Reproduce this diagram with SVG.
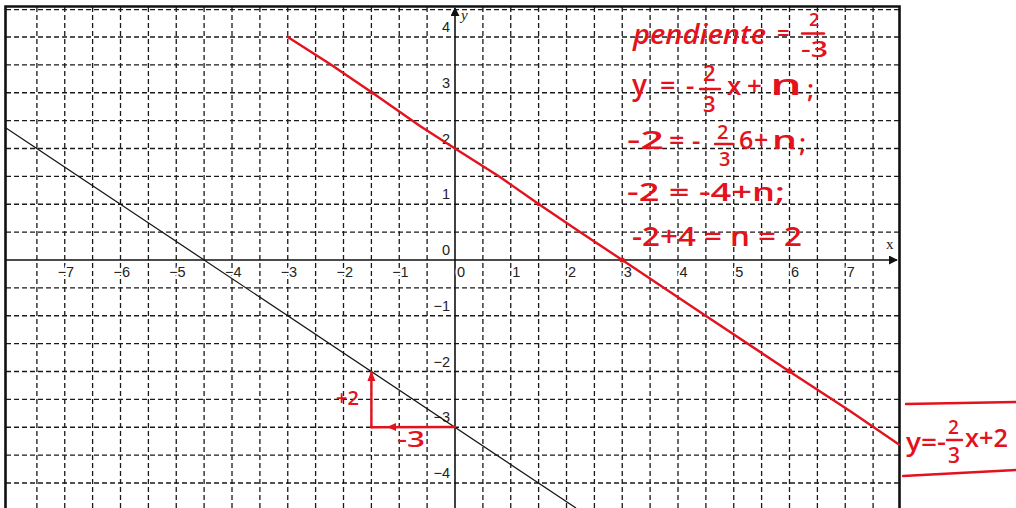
<svg xmlns="http://www.w3.org/2000/svg" width="1016" height="508" viewBox="0 0 1016 508">
<style>
.grid{fill:none;stroke:#1a1a1a;stroke-width:1.3;stroke-dasharray:5 3}
.axis{fill:none;stroke:#111;stroke-width:1.6}
.frame{fill:none;stroke:#111;stroke-width:2.6}
.num{font-family:"Liberation Sans",Arial,sans-serif;font-size:14.5px;fill:#222;stroke:#fff;stroke-width:4;paint-order:stroke;stroke-linejoin:round}
.var{font-family:"Liberation Serif","Times New Roman",serif;font-size:15px;fill:#222}
.red{fill:none;stroke:#e3121c;stroke-width:2.4;stroke-linecap:round}
.hw{font-family:"Open Sans","Liberation Sans",sans-serif;fill:#e3121c;font-weight:600}
</style>
<defs>
<marker id="arrBlack" viewBox="0 0 10 10" refX="9" refY="5" markerWidth="9" markerHeight="9" markerUnits="userSpaceOnUse" orient="auto"><path d="M0,0 L10,5 L0,10 z" fill="#111"/></marker>
<marker id="arrRed" viewBox="0 0 10 10" refX="9" refY="5" markerWidth="10" markerHeight="10" markerUnits="userSpaceOnUse" orient="auto"><path d="M0,1 L10,5 L0,9 z" fill="#e3121c"/></marker>
</defs>
<rect width="1016" height="508" fill="#fff"/>
<g id="grid">
<path class="grid" d="M36.9 7V508M64.75 7V508M92.6 7V508M120.5 7V508M148.4 7V508M176.25 7V508M204.1 7V508M232 7V508M259.9 7V508M287.75 7V508M315.6 7V508M343.5 7V508M371.4 7V508M399.25 7V508M427.1 7V508M482.9 7V508M510.75 7V508M538.6 7V508M566.5 7V508M594.4 7V508M622.25 7V508M650.1 7V508M678 7V508M705.9 7V508M733.75 7V508M761.6 7V508M789.5 7V508M817.4 7V508M845.25 7V508M873.1 7V508"/>
<path class="grid" d="M6 9.6H899M6 37H899M6 64.9H899M6 92.75H899M6 120.6H899M6 148.5H899M6 176.4H899M6 204.25H899M6 232.1H899M6 287.9H899M6 315.75H899M6 343.6H899M6 371.5H899M6 399.4H899M6 427.25H899M6 455.1H899M6 483H899"/>
</g>
<g id="frame">
<path class="frame" d="M5.5 508V6.5H899.5V508"/>
</g>
<g id="axes">
<line class="axis" x1="6" y1="260" x2="897" y2="260" marker-end="url(#arrBlack)"/>
<line class="axis" x1="455" y1="508" x2="455" y2="8" marker-end="url(#arrBlack)"/>
<text class="var" x="886" y="249">x</text>
<text class="var" x="461" y="20" font-style="italic">y</text>
</g>
<g id="x-labels" class="num">
<text x="74.2" y="277" text-anchor="end">−7</text>
<text x="130" y="277" text-anchor="end">−6</text>
<text x="185.7" y="277" text-anchor="end">−5</text>
<text x="241.5" y="277" text-anchor="end">−4</text>
<text x="297.2" y="277" text-anchor="end">−3</text>
<text x="353" y="277" text-anchor="end">−2</text>
<text x="408.7" y="277" text-anchor="end">−1</text>
<text x="457" y="277">0</text>
<text x="512.2" y="277">1</text>
<text x="568" y="277">2</text>
<text x="623.7" y="277">3</text>
<text x="679.5" y="277">4</text>
<text x="735.2" y="277">5</text>
<text x="791" y="277">6</text>
<text x="846.7" y="277">7</text>
</g>
<g id="y-labels" class="num" text-anchor="end">
<text x="450" y="32">4</text>
<text x="450" y="88">3</text>
<text x="450" y="143.5">2</text>
<text x="450" y="199">1</text>
<text x="450" y="255">0</text>
<text x="450" y="311">−1</text>
<text x="450" y="366.5">−2</text>
<text x="450" y="422">−3</text>
<text x="450" y="478">−4</text>
</g>
<g id="black-line">
<line x1="6" y1="127.9" x2="576" y2="508" stroke="#111" stroke-width="1.2"/>
</g>
<g id="red-line">
<polyline class="red" points="287.75,37 330,64 372,92.5 420,126 455,148.5 500,177 538.6,204 580,232 622.25,260 700,312 789.5,371.5 850,411 899,444.5"/>
<circle cx="372" cy="92.75" r="2" fill="#e3121c"/>
<circle cx="538.6" cy="204.25" r="2" fill="#e3121c"/>
<circle cx="622.25" cy="260" r="2.6" fill="#e3121c"/>
<circle cx="789.5" cy="371" r="2.8" fill="#e3121c"/>
</g>
<g id="slope-triangle">
<line class="red" x1="371.4" y1="427.25" x2="371.4" y2="372" marker-end="url(#arrRed)" stroke-width="3"/>
<line class="red" x1="455" y1="427" x2="371.4" y2="427.25" stroke-width="3"/>
<path d="M387 427 L396 423 L396 431 z" fill="#e3121c"/>
<text class="hw" x="336" y="405" font-size="20" font-weight="bold">+2</text>
<text class="hw" x="397" y="447" font-size="21" font-weight="bold" textLength="28" lengthAdjust="spacingAndGlyphs">-3</text>
</g>
<g id="calculation" class="hw">
<text x="633" y="44" font-size="27" font-style="italic" textLength="133" lengthAdjust="spacingAndGlyphs">pendiente</text>
<text x="777" y="41" font-size="22">=</text>
<text x="809" y="26" font-size="18">2</text>
<line class="red" x1="802" y1="33.5" x2="824" y2="33.5" stroke-width="2.2"/>
<text x="801" y="57" font-size="22" textLength="27" lengthAdjust="spacingAndGlyphs">-3</text>

<text x="632" y="95" font-size="28">y</text>
<text x="660" y="95" font-size="27">=</text>
<text x="686" y="95" font-size="26">-</text>
<text x="703" y="81" font-size="22">2</text>
<line class="red" x1="700" y1="89" x2="720" y2="89" stroke-width="2.2"/>
<text x="703" y="112" font-size="22">3</text>
<text x="727" y="95" font-size="26">x</text>
<text x="747" y="95" font-size="26">+</text>
<text x="770" y="95" font-size="28" textLength="32" lengthAdjust="spacingAndGlyphs">n</text>
<text x="807" y="98" font-size="26">;</text>

<text x="627" y="149" font-size="26" textLength="37" lengthAdjust="spacingAndGlyphs">-2</text>
<text x="669" y="150" font-size="27">=</text>
<text x="692" y="150" font-size="26">-</text>
<text x="717" y="139" font-size="20">2</text>
<line class="red" x1="715" y1="144" x2="733" y2="144" stroke-width="2.2"/>
<text x="719" y="166" font-size="20">3</text>
<text x="739" y="149" font-size="25">6</text>
<text x="754" y="149" font-size="25">+</text>
<text x="772" y="149" font-size="26" textLength="25" lengthAdjust="spacingAndGlyphs">n</text>
<text x="799" y="152" font-size="26">;</text>

<text x="627" y="201" font-size="26" textLength="158" lengthAdjust="spacingAndGlyphs">-2 = -4+n;</text>
<text x="632" y="246" font-size="27" textLength="170" lengthAdjust="spacingAndGlyphs">-2+4 = n = 2</text>
</g>
<g id="result-box" class="hw">
<path class="red" d="M906 404 L1016 402" stroke-width="2.6"/>
<path class="red" d="M903 476 L1016 470" stroke-width="2.6"/>
<text x="906" y="451" font-size="26" textLength="40" lengthAdjust="spacingAndGlyphs">y=-</text>
<text x="948" y="434" font-size="19">2</text>
<line class="red" x1="947" y1="440" x2="962" y2="440" stroke-width="2.2"/>
<text x="948" y="463" font-size="21">3</text>
<text x="965" y="447" font-size="25" textLength="43" lengthAdjust="spacingAndGlyphs">x+2</text>
</g>
</svg>
